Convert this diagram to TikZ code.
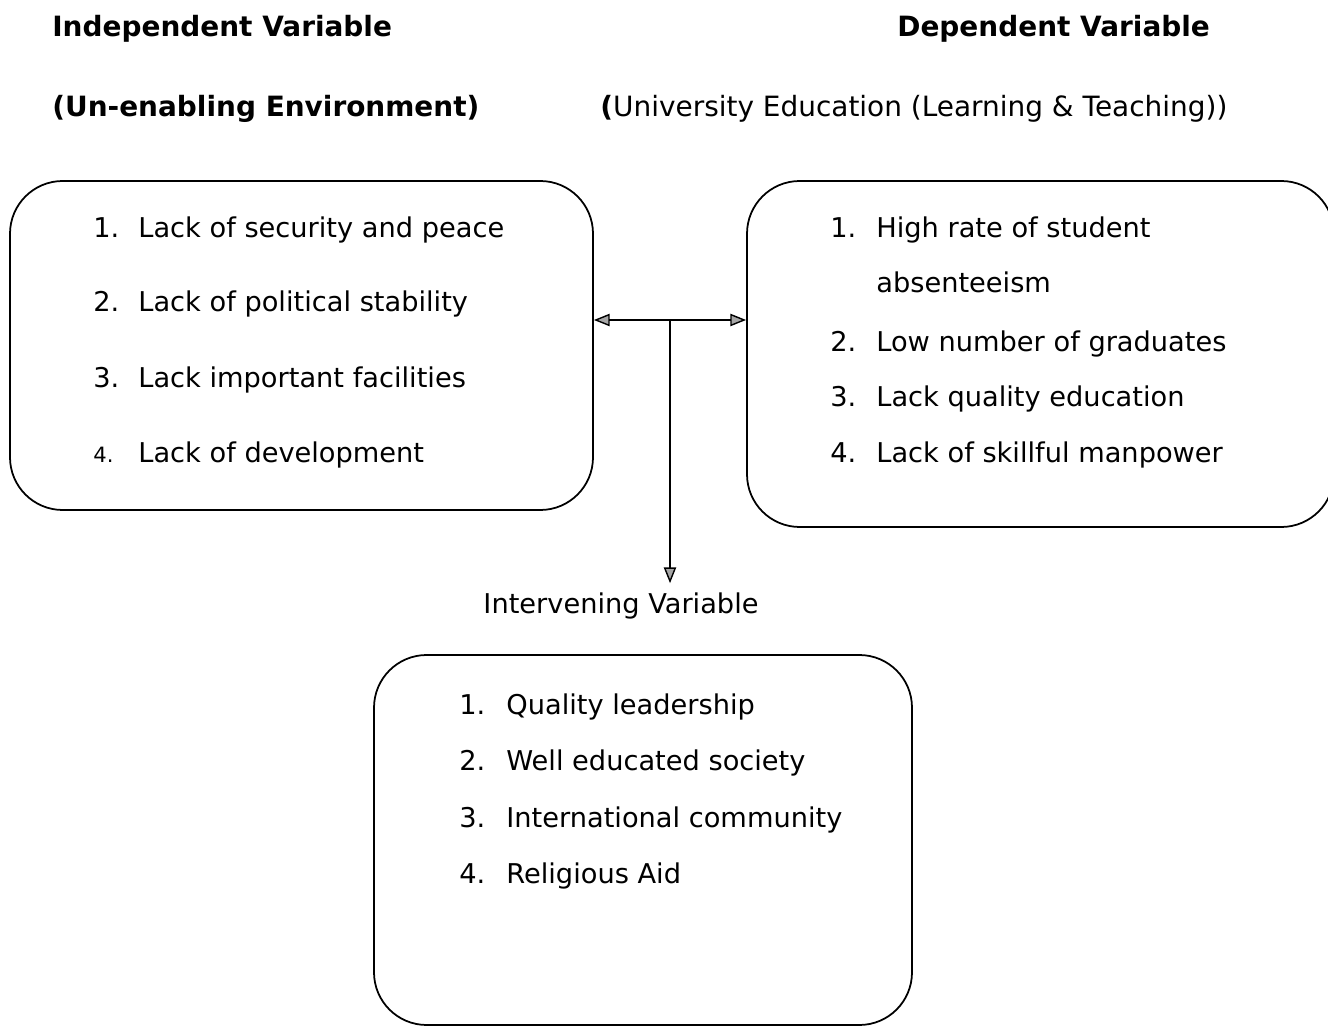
\documentclass[tikz,border=0pt]{standalone}
\usepackage{fontspec}
\setmainfont{DejaVu Sans}
\usetikzlibrary{arrows.meta,positioning,fit}

\begin{document}
\begin{tikzpicture}[x=0.02cm,y=-0.02cm,
  font=\fontsize{15.5}{18}\selectfont,
  box/.style={draw,line width=1pt,rounded corners=30pt,inner sep=0pt},
  lbl/.style={anchor=base west,inner sep=0pt},
  head/.style={lbl,font=\fontsize{15.9}{18}\selectfont\bfseries},
  ar/.style={-{Triangle[length=9pt,width=7pt,fill=gray!70]},line width=0.8pt}]
  \useasboundingbox (0,0) rectangle (1328,1026);
  % headings
  \node[head] (ivh) at (52,37) {Independent Variable};
  \node[head] (dvh) at (897,37) {Dependent Variable};
  \node[head] (ivs) at (52,117) {(Un-enabling Environment)};
  \node[lbl,font=\fontsize{15.9}{18}\selectfont] (dvs) at (600,117)
    {{\bfseries(}University Education (Learning \& Teaching))};
  % boxes
  \node[box,fit={(10,181)(593,510)}] (lbox) {};
  \node[box,fit={(747,181)(1334,527)}] (rbox) {};
  \node[box,fit={(374,655)(912,1025)}] (bbox) {};
  % left items
  \foreach \n/\y/\t in {1/238/Lack of security and peace,2/312/Lack of political stability,
    3/388/Lack important facilities}{
    \node[lbl] (ln\n) at (93,\y) {\n.};
    \node[lbl] (lt\n) at (138,\y) {\t};
  }
  \node[lbl,font=\fontsize{12}{14}\selectfont] (ln4) at (93,463) {4.};
  \node[lbl] (lt4) at (138,463) {Lack of development};
  % right items
  \node[lbl] (rn1) at (830,238) {1.};
  \node[lbl] (rt1) at (876,238) {High rate of student};
  \node[lbl] (rt1b) at (876,293) {absenteeism};
  \foreach \n/\y/\t in {2/352/Low number of graduates,3/407/Lack quality education,
    4/463/Lack of skillful manpower}{
    \node[lbl] (rn\n) at (830,\y) {\n.};
    \node[lbl] (rt\n) at (876,\y) {\t};
  }
  % bottom items
  \foreach \n/\y/\t in {1/714/Quality leadership,2/770/Well educated society,
    3/827/International community,4/883/Religious Aid}{
    \node[lbl] (bn\n) at (459,\y) {\n.};
    \node[lbl] (bt\n) at (506,\y) {\t};
  }
  \node[anchor=base,inner sep=0pt] (iv) at (621,613) {Intervening Variable};
  % connectors
  \coordinate (mid) at (670,320);
  \draw[ar] (mid) -- (lbox.east |- mid);
  \draw[ar] (mid) -- (rbox.west |- mid);
  \draw[ar,shorten >=5pt] (mid) -- (mid |- iv.north);
\end{tikzpicture}
\end{document}
